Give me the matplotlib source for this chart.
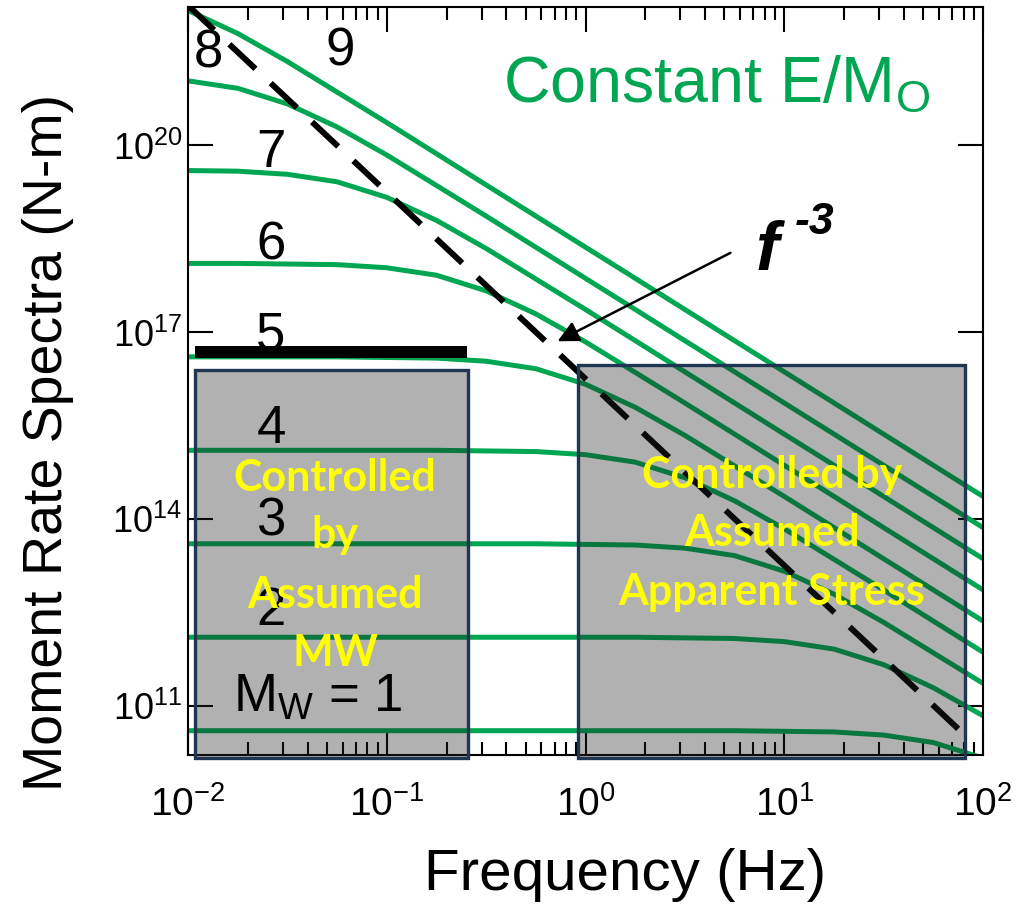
import matplotlib.pyplot as plt
import numpy as np
from matplotlib.patches import Rectangle
from matplotlib.ticker import LogLocator, NullLocator, FixedLocator, FixedFormatter

plt.rcParams['mathtext.fontset'] = 'custom'
plt.rcParams['mathtext.rm'] = 'Liberation Sans'
plt.rcParams['mathtext.it'] = 'Liberation Sans:italic'
plt.rcParams['mathtext.bf'] = 'Liberation Sans:bold'
plt.rcParams['mathtext.sf'] = 'Liberation Sans'

# frequencies (Hz) where the spectra were read, quarter-decade steps
freq = [0.01, 0.0178, 0.0316, 0.0562, 0.1, 0.178, 0.316, 0.562, 1.0,
        1.78, 3.16, 5.62, 10.0, 17.8, 31.6, 56.2, 100.0]

# log10 moment rate spectra (N-m), one list per Mw
mw1 = [10.6, 10.6, 10.6, 10.6, 10.6, 10.6, 10.6, 10.6, 10.6, 10.6, 10.6, 10.6,
       10.59, 10.58, 10.53, 10.41, 10.16]
mw2 = [12.1, 12.1, 12.1, 12.1, 12.1, 12.1, 12.1, 12.1, 12.1, 12.1,
       12.09, 12.08, 12.03, 11.91, 11.66, 11.29, 10.84]
mw3 = [13.6, 13.6, 13.6, 13.6, 13.6, 13.6, 13.6, 13.6,
       13.59, 13.58, 13.53, 13.41, 13.16, 12.79, 12.34, 11.85, 11.36]
mw4 = [15.1, 15.1, 15.1, 15.1, 15.1, 15.1,
       15.09, 15.08, 15.03, 14.91, 14.66, 14.29, 13.84, 13.35, 12.86, 12.36, 11.86]
mw5 = [16.6, 16.6, 16.6, 16.6, 16.59, 16.58, 16.53, 16.41, 16.16, 15.79,
       15.34, 14.85, 14.36, 13.86, 13.36, 12.86, 12.36]
mw6 = [18.1, 18.1, 18.09, 18.08, 18.03, 17.91, 17.66, 17.29, 16.84, 16.35,
       15.86, 15.36, 14.86, 14.36, 13.86, 13.36, 12.86]
mw7 = [19.59, 19.58, 19.53, 19.41, 19.16, 18.79, 18.34, 17.85, 17.36, 16.86,
       16.36, 15.86, 15.36, 14.86, 14.36, 13.86, 13.36]
mw8 = [21.03, 20.91, 20.66, 20.29, 19.84, 19.35, 18.86, 18.36, 17.86, 17.36,
       16.86, 16.36, 15.86, 15.36, 14.86, 14.36, 13.86]
mw9 = [22.16, 21.79, 21.34, 20.85, 20.36, 19.86, 19.36, 18.86, 18.36, 17.86,
       17.36, 16.86, 16.36, 15.86, 15.36, 14.86, 14.36]
spectra = [mw1, mw2, mw3, mw4, mw5, mw6, mw7, mw8, mw9]

# corner frequency line (f^-3)
corner_f = [0.01, 75.0]
corner_logm = [22.24, 10.63]

xticks = [0.01, 0.1, 1, 10, 100]
xticklabels = [r'$10^{-2}$', r'$10^{-1}$', r'$10^{0}$', r'$10^{1}$', r'$10^{2}$']
yticks = [1e11, 1e14, 1e17, 1e20]
yticklabels = [r'$10^{11}$', r'$10^{14}$', r'$10^{17}$', r'$10^{20}$']

GREEN = '#00a651'
W, H = 1022, 909


def px(x, y):
    return x / W, 1 - y / H


fig = plt.figure(figsize=(W / 100, H / 100), dpi=100)
ax = fig.add_axes([188 / W, 1 - 755 / H, (983 - 188) / W, (755 - 7) / H])

for s in spectra:
    ax.plot(freq, 10 ** np.array(s), color=GREEN, lw=3.6, solid_capstyle='butt', zorder=2)

ax.plot(corner_f, 10 ** np.array(corner_logm), color='black', lw=4.3,
        dashes=(6, 3.5), zorder=3)

ax.set_xscale('log')
ax.set_yscale('log')
ax.set_xlim(1e-2, 1e2)
ax.set_ylim(10 ** 10.21, 10 ** 22.215)
ax.xaxis.set_major_locator(FixedLocator(xticks))
ax.xaxis.set_major_formatter(FixedFormatter(xticklabels))
ax.yaxis.set_major_locator(FixedLocator(yticks))
ax.yaxis.set_major_formatter(FixedFormatter(yticklabels))
ax.yaxis.set_minor_locator(NullLocator())
ax.xaxis.set_minor_locator(LogLocator(base=10, subs=np.arange(2, 10)))
ax.tick_params(which='both', direction='in', top=True, right=True, width=1.5)
ax.tick_params(which='major', length=18)
ax.tick_params(which='minor', length=9.5)
ax.tick_params(axis='x', labelsize=28, pad=22)
ax.tick_params(axis='y', labelsize=26, pad=4)
for sp in ax.spines.values():
    sp.set_linewidth(1.5)

# thick black bar above the Mw 5 plateau
ax.plot([0.0108, 0.254], [10 ** 16.68, 10 ** 16.68], color='black', lw=8.6,
        solid_capstyle='butt', zorder=4)

# shaded boxes
for x0, x1, y0 in [(0.0108, 0.256, 16.39), (0.916, 81.0, 16.47)]:
    ax.add_patch(Rectangle((x0, 10 ** 10.165), x1 - x0, 10 ** y0 - 10 ** 10.165,
                           facecolor=(0.13, 0.13, 0.13, 0.35), edgecolor='#1f3552',
                           lw=2.4, zorder=5, clip_on=False))

# arrow pointing at the corner line
ax.annotate('', xy=(0.703, 10 ** 16.83), xytext=(5.52, 10 ** 18.29),
            arrowprops=dict(arrowstyle='-|>', color='black', lw=1.8,
                            mutation_scale=32), zorder=6)

txt = dict(fontfamily='Liberation Sans', color='black', ha='center', va='baseline')
fig.text(*px(340, 66), '9', fontsize=38, **txt)
fig.text(*px(208, 68), '8', fontsize=38, **txt)
for lab, yb in [('7', 167), ('6', 260), ('5', 350), ('4', 443), ('3', 535), ('2', 625)]:
    fig.text(*px(271, yb), lab, fontsize=38, **txt)
fig.text(*px(318, 712), r'M$_{\mathdefault{W}}$ = 1', fontsize=38, **txt)

fig.text(*px(717, 102), r'Constant E/M$_{\mathdefault{O}}$', fontsize=46.5,
         fontfamily='Liberation Sans', color=GREEN, ha='center', va='baseline')

fig.text(*px(755, 270), 'f', fontsize=50, fontweight='bold', fontstyle='italic',
         fontfamily='Liberation Sans', ha='left', va='baseline')
fig.text(*px(795, 234), '-3', fontsize=32, fontweight='bold', fontstyle='italic',
         fontfamily='Liberation Sans', ha='left', va='baseline')

ytxt = dict(fontfamily=['Lato', 'DejaVu Sans'], fontweight='bold', color='#ffff00',
            fontsize=31, ha='center', va='center', zorder=7)
for lab, yc in [('Controlled', 478), ('by', 535), ('Assumed', 595), ('MW', 653)]:
    fig.text(*px(335, yc), lab, **ytxt)
for lab, yc in [('Controlled by', 475), ('Assumed', 533), ('Apparent Stress', 592)]:
    fig.text(*px(772, yc), lab, **ytxt)

fig.text(*px(625, 890), 'Frequency (Hz)', fontsize=42, fontfamily='Liberation Sans',
         ha='center', va='baseline')
fig.text(*px(62, 442), 'Moment Rate Spectra (N-m)', fontsize=40,
         fontfamily='Liberation Sans', rotation=90, rotation_mode='anchor',
         ha='center', va='baseline')

fig.savefig('out.png', dpi=100)
